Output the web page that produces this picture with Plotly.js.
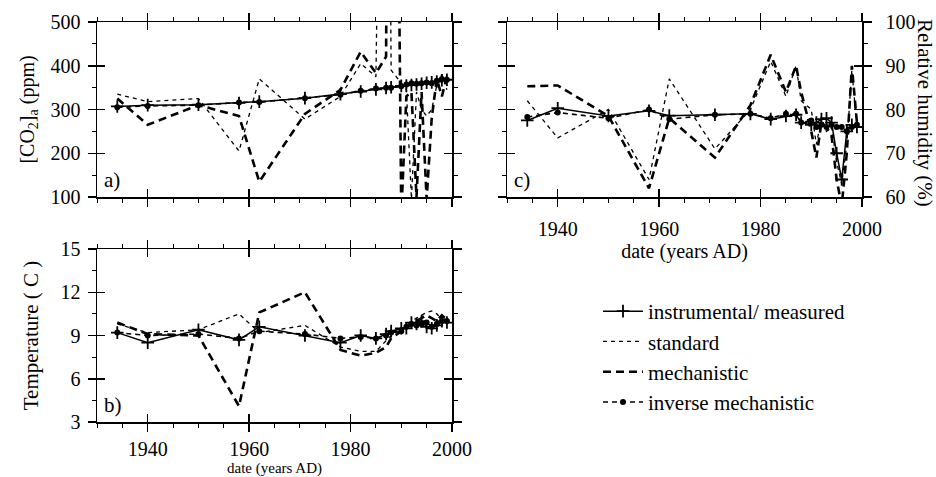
<!DOCTYPE html>
<html><head><meta charset="utf-8">
<script src="https://cdn.plot.ly/plotly-3.0.1.min.js"></script>
<style>html,body{margin:0;padding:0;background:#fff}#chart{width:936px;height:477px}</style>
</head><body><div id="chart"></div>
<script>
// ---- data ----
const years = [1934, 1940, 1950, 1958, 1962, 1971, 1978, 1982, 1985, 1987, 1988, 1990, 1991, 1992, 1993, 1994, 1995, 1996, 1997, 1998, 1999];
const seriesNames = ["instrumental/ measured", "standard", "mechanistic", "inverse mechanistic"];

// panel a) [CO2]a (ppm)
const co2Instrumental = [307, 310, 311, 315, 318, 326, 335, 341, 346, 349, 351, 354, 355, 356, 357, 359, 361, 362, 364, 367, 368];
const co2Standard     = [335, 318, 325, 205, 370, 278, 330, 405, 375, 2000, 390, 360, 345, 95, 340, 300, 285, 300, 355, 380, 345];
const co2Mechanistic  = [325, 265, 310, 285, 135, 290, 345, 432, 383, 421, 2500, 60, 330, 340, 100, 340, 95, 280, 370, 330, 375];
const co2Inverse      = [305, 308, 310, 316, 317, 326, 334, 343, 348, 350, 350, 353, 357, 360, 359, 360, 362, 360, 366, 370, 368];

// panel b) Temperature (C)
const tInstrumental = [9.2, 8.5, 9.4, 8.7, 9.6, 9.0, 8.5, 9.0, 8.8, 9.1, 9.3, 9.5, 9.5, 9.9, 9.8, 10.0, 9.6, 9.5, 9.7, 10.0, 9.9];
const tStandard     = [9.8, 9.2, 9.4, 10.5, 9.2, 9.7, 8.2, 7.9, 7.9, 8.6, 9.0, 9.4, 9.6, 10.0, 10.2, 10.4, 10.6, 10.7, 10.5, 10.1, 10.2];
const tMechanistic  = [9.9, 9.1, 9.0, 4.1, 10.6, 12.0, 8.0, 7.6, 7.8, 8.2, 8.8, 9.3, 9.5, 9.8, 10.0, 10.2, 10.4, 10.2, 10.0, 10.4, 10.1];
const tInverse      = [9.2, 9.0, 9.1, 8.8, 9.3, 9.1, 8.8, 8.9, 8.8, 9.0, 9.2, 9.3, 9.6, 9.8, 9.7, 9.8, 9.9, 9.6, 9.8, 10.0, 10.0];

// panel c) Relative humidity (%)
const rhInstrumental = [77.5, 80.3, 78.5, 79.7, 78.6, 78.8, 79.0, 77.8, 78.5, 78.8, 77.0, 76.5, 77.0, 77.8, 78.0, 77.0, 70.0, 64.0, 75.0, 76.5, 76.0];
const rhStandard     = [82.0, 73.5, 80.0, 64.0, 87.0, 71.0, 80.0, 91.0, 83.0, 90.0, 82.0, 80.0, 72.0, 78.0, 75.0, 76.0, 68.0, 63.0, 72.0, 89.0, 76.0];
const rhMechanistic  = [85.3, 85.5, 78.5, 62.0, 78.0, 69.0, 81.0, 92.5, 84.0, 90.0, 84.0, 75.0, 69.0, 77.0, 76.0, 74.0, 64.0, 58.0, 70.0, 90.0, 77.0];
const rhInverse      = [78.3, 79.3, 78.0, 80.0, 77.8, 78.8, 79.0, 78.0, 79.0, 79.0, 77.0, 77.5, 76.0, 76.5, 76.0, 76.5, 76.0, 76.0, 75.0, 76.0, 76.5];

const panelLabels = ["a)", "b)", "c)"];
const yTitleA = "[CO<sub>2</sub>]<sub>a</sub> (ppm)";
const yTitleB = "Temperature ( C )";
const yTitleC = "Relative humidity (%)";
const xTitle = "date (years AD)";

// ---- styles ----
const FONT = "Liberation Serif";
const styles = [
  {mode: "lines+markers", line: {color: "#000", width: 1.5}, marker: {symbol: "cross-thin", size: 9, color: "#000", line: {width: 1.8, color: "#000"}}},
  {mode: "lines", line: {color: "#000", width: 1.3, dash: "4px,4px"}},
  {mode: "lines", line: {color: "#000", width: 2.6, dash: "8px,5px"}},
  {mode: "lines+markers", line: {color: "#000", width: 1.6, dash: "5px,4px"}, marker: {symbol: "circle", size: 6, color: "#000"}}
];

const panels = [
  {xa: "x", ya: "y", data: [co2Instrumental, co2Standard, co2Mechanistic, co2Inverse], legend: true},
  {xa: "x2", ya: "y2", data: [tInstrumental, tStandard, tMechanistic, tInverse], legend: false},
  {xa: "x3", ya: "y3", data: [rhInstrumental, rhStandard, rhMechanistic, rhInverse], legend: false}
];

const traces = [];
panels.forEach(p => {
  p.data.forEach((vals, i) => {
    traces.push(Object.assign({
      type: "scatter", x: years, y: vals, name: seriesNames[i],
      xaxis: p.xa, yaxis: p.ya, legendgroup: "g" + i, showlegend: p.legend,
      cliponaxis: true
    }, JSON.parse(JSON.stringify(styles[i]))));
  });
});
// empty traces so the inner-tick overlay axes are drawn
[["x4", "y4"], ["x5", "y5"], ["x6", "y6"]].forEach(([xa, ya]) => {
  traces.push({type: "scatter", x: [], y: [], xaxis: xa, yaxis: ya, showlegend: false, hoverinfo: "skip"});
});

const W = 936, H = 477;
const px = v => v / W, py = v => 1 - v / H;
const domXab = [px(97), px(452)];
const domXc = [px(507), px(862)];
const domYac = [py(197), py(22)];
const domYb = [py(422), py(249)];

const tickfont = {family: FONT, size: 20, color: "#000"};
function xAxis(domain, anchor, showLabels, title, standoff) {
  return {
    domain, anchor, range: [1930, 2000], tick0: 1940, dtick: 20,
    ticks: "outside", ticklen: 8, tickwidth: 1.5, tickcolor: "#000",
    showline: true, linewidth: 1.5, linecolor: "#000", mirror: "allticks",
    showgrid: false, zeroline: false, showticklabels: showLabels,
    tickfont, ticklabelstandoff: standoff,
    minor: {tick0: 1930, dtick: 5, ticks: "outside", ticklen: 4, tickwidth: 1, tickcolor: "#000", showgrid: false},
    title: title || {text: ""}
  };
}
function yAxis(domain, anchor, range, dtick, side, title) {
  return {
    domain, anchor, range, tick0: range[0], dtick, side,
    ticks: "outside", ticklen: 8, tickwidth: 1.5, tickcolor: "#000",
    showline: true, linewidth: 1.5, linecolor: "#000", mirror: "allticks",
    showgrid: false, zeroline: false, tickfont, ticklabelstandoff: side === "right" ? 10 : 3,
    minor: {dtick: dtick / 2, ticks: "outside", ticklen: 4, tickwidth: 1, tickcolor: "#000", showgrid: false},
    title: title || {text: ""}
  };
}
function overlay(base, anchor, range, tick0, dtick, side) {
  return {
    overlaying: base, anchor, range, tick0, dtick, side,
    ticks: "inside", ticklen: 8, tickwidth: 1.5, tickcolor: "#000",
    showline: false, mirror: "allticks", showticklabels: false,
    showgrid: false, zeroline: false, fixedrange: true
  };
}

const layout = {
  width: W, height: H,
  margin: {l: 0, r: 0, t: 0, b: 0},
  paper_bgcolor: "#fff", plot_bgcolor: "#fff",
  font: {family: FONT, color: "#000", size: 17},
  showlegend: true,
  legend: {x: px(598), y: py(291), xanchor: "left", yanchor: "top",
           font: {family: FONT, size: 21, color: "#000"}, bgcolor: "rgba(0,0,0,0)",
           tracegroupgap: 0, itemwidth: 40},
  xaxis: xAxis(domXab, "y", false, null, 5),
  yaxis: yAxis(domYac, "x", [100, 500], 100, "left", {text: yTitleA, font: {family: FONT, size: 20}, standoff: 10}),
  xaxis2: xAxis(domXab, "y2", true, {text: xTitle, font: {family: FONT, size: 15}, standoff: 6}, 0),
  yaxis2: yAxis(domYb, "x2", [3, 15], 3, "left", {text: yTitleB, font: {family: FONT, size: 21}, standoff: 16}),
  xaxis3: xAxis(domXc, "y3", true, {text: xTitle, font: {family: FONT, size: 20}, standoff: 2}, 5),
  yaxis3: yAxis(domYac, "x3", [60, 100], 10, "right"),
  xaxis4: overlay("x", "y4", [1930, 2000], 1940, 20, "bottom"),
  yaxis4: overlay("y", "x4", [100, 500], 100, 100, "left"),
  xaxis5: overlay("x2", "y5", [1930, 2000], 1940, 20, "bottom"),
  yaxis5: overlay("y2", "x5", [3, 15], 3, 3, "left"),
  xaxis6: overlay("x3", "y6", [1930, 2000], 1940, 20, "bottom"),
  yaxis6: overlay("y3", "x6", [60, 100], 60, 10, "right"),
  annotations: [
    {text: panelLabels[0], xref: "x domain", yref: "y domain", x: 0.015, y: 0.02, xanchor: "left", yanchor: "bottom", showarrow: false, font: {family: FONT, size: 21}},
    {text: panelLabels[1], xref: "x2 domain", yref: "y2 domain", x: 0.015, y: 0.02, xanchor: "left", yanchor: "bottom", showarrow: false, font: {family: FONT, size: 21}},
    {text: panelLabels[2], xref: "x3 domain", yref: "y3 domain", x: 0.015, y: 0.02, xanchor: "left", yanchor: "bottom", showarrow: false, font: {family: FONT, size: 21}},
    {text: yTitleC, xref: "paper", yref: "paper", x: px(925), y: py(113), textangle: 90, showarrow: false, xanchor: "center", yanchor: "middle", font: {family: FONT, size: 21}}
  ]
};

Plotly.newPlot("chart", traces, layout, {staticPlot: true, displayModeBar: false});
</script>
</body></html>
